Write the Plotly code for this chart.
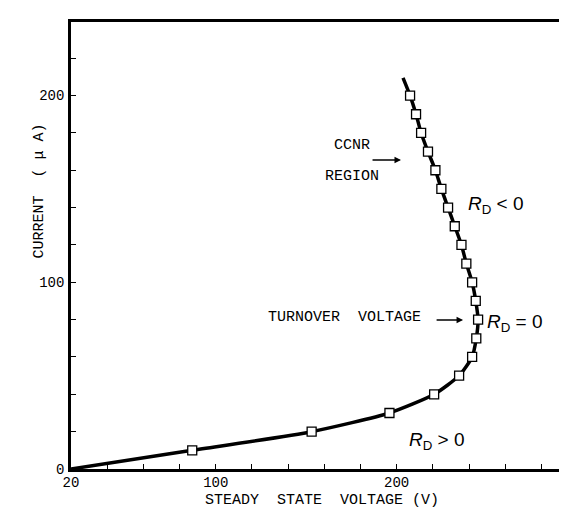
import plotly.graph_objects as go

# ---- data ----
current_uA = [10, 20, 30, 40, 50, 60, 70, 80, 90, 100,
              110, 120, 130, 140, 150, 160, 170, 180, 190, 200]
voltage_V = [87, 153, 196, 220.7, 234.5, 241.7, 244, 245, 243.7, 241.7,
             238.5, 235.8, 232.1, 228.4, 224.7, 221.4, 217.3, 213.5, 210.7, 207.4]

# fitted curve drawn through the points, extended at both ends
curve_v = [20] + voltage_V + [203.5]
curve_i = [0] + current_uA + [209.5]

x_ticks = list(range(20, 300, 20))
x_labels = {20: "20", 100: "100", 200: "200"}
y_ticks = list(range(0, 240, 20))
y_labels = {0: "0", 100: "100", 200: "200"}

FONT = "Liberation Mono, DejaVu Sans Mono, monospace"
NB = "\u00a0"

fig = go.Figure()
fig.add_trace(go.Scatter(
    x=curve_v, y=curve_i, mode="lines",
    line=dict(color="black", width=3.5, shape="spline", smoothing=0.6),
    hoverinfo="skip", showlegend=False))
fig.add_trace(go.Scatter(
    x=voltage_V, y=current_uA, mode="markers",
    marker=dict(symbol="square", size=9, color="white",
                line=dict(color="black", width=1.3)),
    showlegend=False))
# helper trace for the right-hand tick axis
fig.add_trace(go.Scatter(x=[None], y=[None], yaxis="y2", showlegend=False,
                         hoverinfo="skip"))

axis_font = dict(family=FONT, size=14, color="black")

fig.update_layout(
    width=567, height=509,
    margin=dict(l=63, r=1, t=14, b=48, autoexpand=False),
    paper_bgcolor="white", plot_bgcolor="white",
    xaxis=dict(range=[20, 298], tickvals=x_ticks,
               ticktext=[x_labels.get(v, "") for v in x_ticks],
               ticks="inside", ticklen=5, tickwidth=1.3, tickcolor="black",
               showline=True, linecolor="black", linewidth=2.5, mirror=True,
               showgrid=False, zeroline=False, tickfont=axis_font,
               ticklabelstandoff=-2, automargin=False),
    yaxis=dict(range=[0, 239.4], tickvals=y_ticks,
               ticktext=[y_labels.get(v, "") for v in y_ticks],
               ticks="inside", ticklen=5, tickwidth=1.3, tickcolor="black",
               showline=True, linecolor="black", linewidth=2.5,
               showgrid=False, zeroline=False, tickfont=axis_font,
               ticklabelstandoff=1, automargin=False),
    yaxis2=dict(overlaying="y", side="right", matches="y", range=[0, 239.4],
                tickvals=y_ticks, showticklabels=False,
                ticks="inside", ticklen=4, tickwidth=1.3, tickcolor="black",
                showline=False, showgrid=False, zeroline=False,
                automargin=False),
)

txt = dict(family=FONT, size=15, color="black")
rfont = dict(family="Liberation Sans, Arial, sans-serif", size=19, color="black")

annotations = [
    dict(x=175.3, y=173.5, text="CCNR", font=txt),
    dict(x=175.3, y=156.9, text="REGION", font=txt),
    dict(x=202.4, y=165.5, text="", showarrow=True, ax=-30, ay=0,
         arrowhead=2, arrowsize=1, arrowwidth=1.3, arrowcolor="black"),
    dict(x=171.2, y=80.9, text="TURNOVER" + NB * 2 + "VOLTAGE", font=txt),
    dict(x=236.7, y=79.8, text="", showarrow=True, ax=-28, ay=0,
         arrowhead=2, arrowsize=1, arrowwidth=1.3, arrowcolor="black"),
    dict(x=238.4, y=141.4, xanchor="left",
         text="<i>R</i><sub>D</sub>" + NB + "<" + NB + "0", font=rfont),
    dict(x=248.9, y=78.0, xanchor="left",
         text="<i>R</i><sub>D</sub>" + NB + "=" + NB + "0", font=rfont),
    dict(x=205.7, y=15.0, xanchor="left",
         text="<i>R</i><sub>D</sub>" + NB + ">" + NB + "0", font=rfont),
    dict(xref="paper", yref="paper", x=0.7356, y=-0.095,
         text="STEADY" + NB * 2 + "STATE" + NB * 2 + "VOLTAGE" + NB + "(V)",
         font=txt),
    dict(xref="paper", yref="paper", x=-0.0835, y=0.622, textangle=-90,
         text="CURRENT" + NB * 2 + "(" + NB + "\u03bc" + NB + "A)", font=txt),
]
for a in annotations:
    a.setdefault("showarrow", False)
    a.setdefault("xref", "x")
    a.setdefault("yref", "y")
    fig.add_annotation(**a)

fig.write_html("out.html")
